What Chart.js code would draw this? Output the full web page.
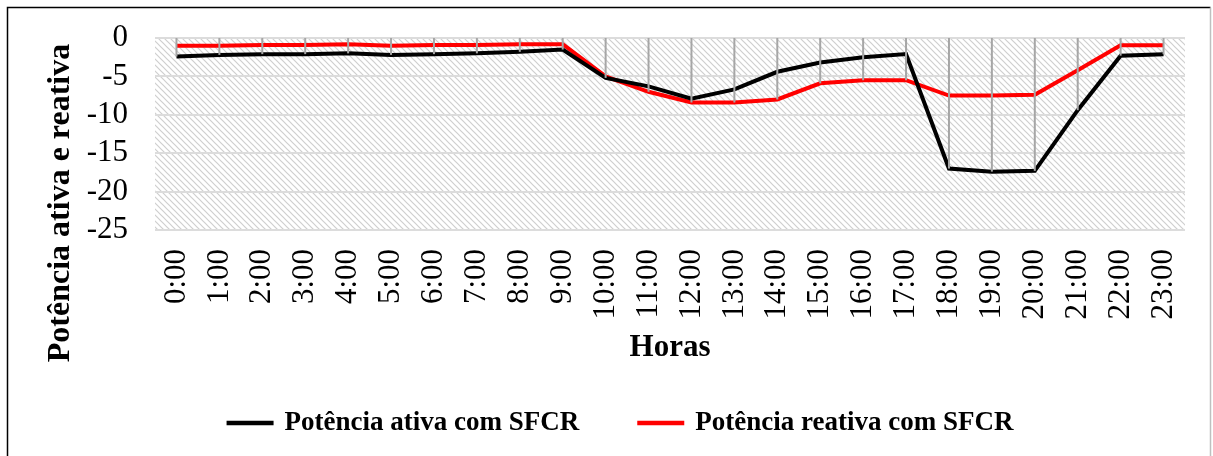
<!DOCTYPE html>
<html>
<head>
<meta charset="utf-8">
<script src="https://cdn.jsdelivr.net/npm/chart.js@4.4.0/dist/chart.umd.min.js"></script>
<style>
  html, body { margin: 0; padding: 0; background: #fff; }
  canvas { display: block; }
</style>
</head>
<body>
<canvas id="myChart" width="1213" height="456"></canvas>
<script>
// dados horários (kW / kvar)
const horas = ['0:00', '1:00', '2:00', '3:00', '4:00', '5:00', '6:00', '7:00', '8:00', '9:00', '10:00', '11:00',
  '12:00', '13:00', '14:00', '15:00', '16:00', '17:00', '18:00', '19:00', '20:00', '21:00', '22:00', '23:00'];
const potenciaAtiva = [-2.4, -2.2, -2.1, -2.1, -2.0, -2.2, -2.1, -2.0, -1.8, -1.5, -5.2, -6.3,
  -7.9, -6.7, -4.4, -3.2, -2.5, -2.1, -17.0, -17.4, -17.3, -9.4, -2.3, -2.1];
const potenciaReativa = [-1.0, -1.0, -0.9, -0.9, -0.8, -1.0, -0.9, -0.9, -0.8, -0.8, -5.0, -7.0,
  -8.4, -8.4, -8.0, -5.9, -5.5, -5.5, -7.5, -7.5, -7.4, -4.2, -0.95, -0.95];
const eixoY = { min: -25, max: 0, passo: 5 };

const fonte = '"Liberation Serif", "Times New Roman", serif';

// textura de listras diagonais do fundo da área de plotagem
function hachura() {
  const c = document.createElement('canvas');
  c.width = 6; c.height = 6;
  const g = c.getContext('2d');
  g.strokeStyle = '#cfcfcf';
  g.lineWidth = 1.2;
  g.beginPath();
  g.moveTo(-1, -1); g.lineTo(7, 7);
  g.moveTo(-1, 5); g.lineTo(1, 7);
  g.moveTo(5, -1); g.lineTo(7, 1);
  g.stroke();
  return c;
}

const fundoPlugin = {
  id: 'fundo',
  beforeDraw(chart) {
    const { ctx, chartArea: a } = chart;
    ctx.save();
    ctx.fillStyle = '#fff';
    ctx.fillRect(0, 0, chart.width, chart.height);
    ctx.fillStyle = ctx.createPattern(hachura(), 'repeat');
    ctx.fillRect(a.left, a.top, a.right - a.left, a.bottom - a.top);
    ctx.restore();
  }
};

// linhas verticais cinza do zero até o menor valor de cada hora
const linhasQuedaPlugin = {
  id: 'linhasQueda',
  afterDatasetsDraw(chart) {
    const { ctx, scales: { x, y } } = chart;
    const y0 = y.getPixelForValue(0);
    ctx.save();
    ctx.strokeStyle = '#a6a6a6';
    ctx.lineWidth = 2;
    horas.forEach((h, i) => {
      const px = x.getPixelForValue(i);
      const py = y.getPixelForValue(Math.min(potenciaAtiva[i], potenciaReativa[i]));
      ctx.beginPath();
      ctx.moveTo(px, y0);
      ctx.lineTo(px, py);
      ctx.stroke();
    });
    ctx.restore();
  }
};

// título do eixo Y, legenda e moldura
const molduraPlugin = {
  id: 'moldura',
  afterDraw(chart) {
    const ctx = chart.ctx;
    ctx.save();
    ctx.translate(61, 203);
    ctx.rotate(-Math.PI / 2);
    ctx.font = 'bold 32px ' + fonte;
    ctx.fillStyle = '#000';
    ctx.textAlign = 'center';
    ctx.textBaseline = 'middle';
    ctx.fillText('Potência ativa e reativa', 0, 0);
    ctx.restore();

    // legenda
    ctx.save();
    ctx.font = 'bold 27px ' + fonte;
    ctx.textBaseline = 'middle';
    ctx.textAlign = 'left';
    const ds = chart.data.datasets;
    const linha = 47, folga = 11, entre = 58, yLeg = 423;
    const larguras = ds.map(d => linha + folga + ctx.measureText(d.label).width);
    const total = larguras.reduce((s, w) => s + w, 0) + entre * (ds.length - 1);
    let x0 = 620 - total / 2;
    ds.forEach((d, i) => {
      ctx.strokeStyle = d.borderColor;
      ctx.lineWidth = 4.5;
      ctx.beginPath();
      ctx.moveTo(x0, yLeg);
      ctx.lineTo(x0 + linha, yLeg);
      ctx.stroke();
      ctx.fillStyle = '#000';
      ctx.fillText(d.label, x0 + linha + folga, yLeg);
      x0 += larguras[i] + entre;
    });
    ctx.restore();

    ctx.save();
    ctx.lineWidth = 1.5;
    ctx.strokeStyle = '#000';
    ctx.beginPath();
    ctx.moveTo(7.5, chart.height);
    ctx.lineTo(7.5, 7.5);
    ctx.lineTo(1210.5, 7.5);
    ctx.stroke();
    ctx.strokeStyle = '#bfbfbf';
    ctx.beginPath();
    ctx.moveTo(1210.5, 7.5);
    ctx.lineTo(1210.5, chart.height);
    ctx.stroke();
    ctx.restore();
  }
};

const ctx = document.getElementById('myChart');
new Chart(ctx, {
  type: 'line',
  data: {
    labels: horas,
    datasets: [{
      label: 'Potência ativa com SFCR',
      data: potenciaAtiva,
      borderColor: '#000000',
      backgroundColor: '#000000',
      borderWidth: 4,
      pointRadius: 0,
      tension: 0
    }, {
      label: 'Potência reativa com SFCR',
      data: potenciaReativa,
      borderColor: '#ff0000',
      backgroundColor: '#ff0000',
      borderWidth: 4,
      pointRadius: 0,
      tension: 0
    }]
  },
  options: {
    responsive: false,
    animation: false,
    devicePixelRatio: 1,
    layout: { padding: { top: 38, left: 60, right: 28, bottom: 104.5 } },
    plugins: {
      tooltip: { enabled: false },
      legend: { display: false }
    },
    scales: {
      x: {
        offset: true,
        grid: { display: false },
        border: { display: false },
        ticks: {
          autoSkip: false,
          minRotation: 90,
          maxRotation: 90,
          padding: 11,
          color: '#000',
          font: { family: fonte, size: 31, lineHeight: 1 }
        },
        title: {
          display: true,
          text: 'Horas',
          color: '#000',
          padding: 0,
          font: { family: fonte, size: 31, weight: 'bold', lineHeight: 0.2 }
        },
        afterFit: s => { s.height = 121.5; }
      },
      y: {
        min: eixoY.min,
        max: eixoY.max,
        // marcas de escala invisíveis só para afastar os rótulos da área
        grid: { color: '#dcdcdc', lineWidth: 2, drawTicks: true, tickLength: 27, tickColor: 'rgba(0,0,0,0)' },
        border: { display: false },
        ticks: {
          autoSkip: false,
          stepSize: eixoY.passo,
          padding: 0,
          color: '#000',
          font: { family: fonte, size: 31, lineHeight: 1 }
        },
        afterFit: s => { s.width = 95; }
      }
    }
  },
  plugins: [fundoPlugin, linhasQuedaPlugin, molduraPlugin]
});
</script>
</body>
</html>
